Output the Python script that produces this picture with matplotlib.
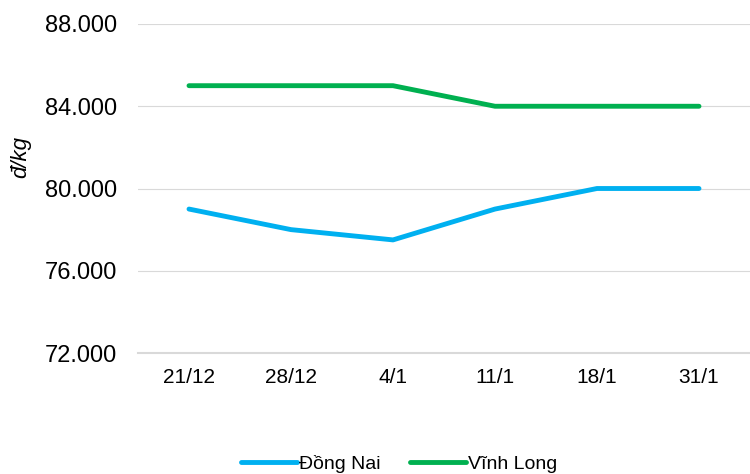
import matplotlib.pyplot as plt
from matplotlib.ticker import FuncFormatter

plt.rcParams['font.family'] = ['Liberation Sans', 'DejaVu Sans']

# data
dates = ['21/12', '28/12', '4/1', '11/1', '18/1', '31/1']
dong_nai = [79000, 78000, 77500, 79000, 80000, 80000]
vinh_long = [85000, 85000, 85000, 84000, 84000, 84000]

fig = plt.figure(figsize=(7.5, 4.74), dpi=100)
ax = fig.add_axes([138 / 750, 1 - 353 / 474, 612 / 750, 329 / 474])

x = range(len(dates))
ax.plot(x, dong_nai, color='#00b0f0', lw=3.5, label='Đồng Nai', solid_capstyle='round')
ax.plot(x, vinh_long, color='#00b050', lw=3.5, label='Vĩnh Long', solid_capstyle='round')

ax.set_xlim(-0.5, len(dates) - 0.5)
ax.set_ylim(72000, 88000)
ax.set_yticks(range(72000, 88001, 4000))
ax.yaxis.set_major_formatter(FuncFormatter(lambda v, p: f'{int(v):,}'.replace(',', '.')))
ax.set_xticks(list(x))
ax.set_xticklabels(dates, fontsize=15)

ax.grid(axis='y', color='#d9d9d9', lw=0.8)
ax.set_axisbelow(True)
for s in ['top', 'right', 'left']:
    ax.spines[s].set_visible(False)
ax.spines['bottom'].set_color('#d9d9d9')
ax.spines['bottom'].set_linewidth(1.5)
ax.tick_params(length=0, colors='black')
ax.tick_params(axis='y', pad=15, labelsize=17)
ax.tick_params(axis='x', pad=11)

ax.set_ylabel('đ/kg', fontsize=16, style='italic')
ax.yaxis.set_label_coords(-0.174, 0.596)

fig.legend(loc='center', bbox_to_anchor=(399 / 750, 10 / 474), ncol=2, frameon=False,
           fontsize=14, handlelength=2.9, handletextpad=0.1, columnspacing=1.5)

fig.savefig('out.png', dpi=100)
